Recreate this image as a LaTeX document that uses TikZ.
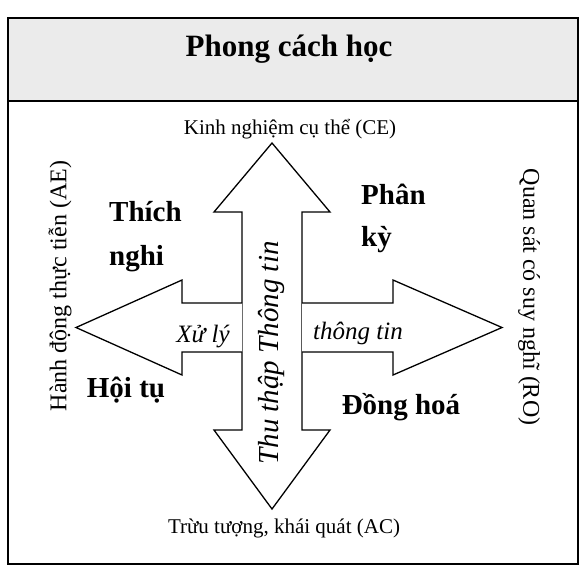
\documentclass[tikz,border=0pt]{standalone}
\usepackage{fontspec}
\setmainfont{Liberation Serif}

\tikzset{
  khung/.style={line width=1.6pt},
  muiten/.style={draw, line width=1.3pt, line join=miter, fill=white},
  kieuhoc/.style={font=\fontsize{29}{44}\selectfont\bfseries, align=left, inner sep=0pt},
  truc/.style={font=\fontsize{21}{25}\selectfont, inner sep=0pt},
  cangang/.style={font=\fontsize{24}{28}\selectfont, inner sep=0pt},
  nghieng/.style={font=\fontsize{25}{30}\selectfont\itshape, inner sep=0pt}
}

\begin{document}
\begin{tikzpicture}[x=1pt, y=-1pt]
\useasboundingbox (0,0) rectangle (580,571);

% khung va dai tieu de
\fill[black!8] (8,18) rectangle (578,101);
\draw[khung] (8,18) rectangle (578,564);
\draw[khung] (8,101) -- (578,101);
\node[font=\fontsize{31}{36}\selectfont\bfseries, anchor=base] (tieude) at (289,56) {Phong cách học};

% mui ten doc
\draw[muiten] (272,143) -- (330,212) -- (302,212) -- (302,430) -- (330,430)
  -- (272,509) -- (214,430) -- (242,430) -- (242,212) -- (214,212) -- cycle;
% mui ten trai
\draw[muiten] (242,303) -- (182,303) -- (182,280) -- (76,327.5)
  -- (182,375) -- (182,352) -- (242,352);
% mui ten phai
\draw[muiten] (302,303) -- (393,303) -- (393,280) -- (502,327.5)
  -- (393,375) -- (393,352) -- (302,352);

% cac truc
\node[truc, anchor=base] (CE) at (290,134) {Kinh nghiệm cụ thể (CE)};
\node[truc, anchor=base] (AC) at (284,533) {Trừu tượng, khái quát (AC)};
\node[cangang, rotate=90] (AE) at (60,286) {Hành động thực tiễn (AE)};
\node[cangang, rotate=-90] (RO) at (529,297) {Quan sát có suy nghĩ (RO)};

% chu tren mui ten
\node[nghieng, font=\fontsize{29}{34}\selectfont\itshape, rotate=90] (thuthap) at (272,353) {Thu thập Thông tin};
\node[nghieng] (xuly) at (203,337) {Xử lý};
\node[nghieng] (thongtin) at (358,333) {thông tin};

% bon phong cach
\node[kieuhoc, anchor=north west] (thichnghi) at (109,201) {Thích\\nghi};
\node[kieuhoc, font=\fontsize{29}{42}\selectfont\bfseries, anchor=north west] (phanky) at (361,184) {Phân\\kỳ};
\node[kieuhoc] (hoitu) at (126,390) {Hội tụ};
\node[kieuhoc] (donghoa) at (401,407) {Đồng hoá};
\end{tikzpicture}
\end{document}
